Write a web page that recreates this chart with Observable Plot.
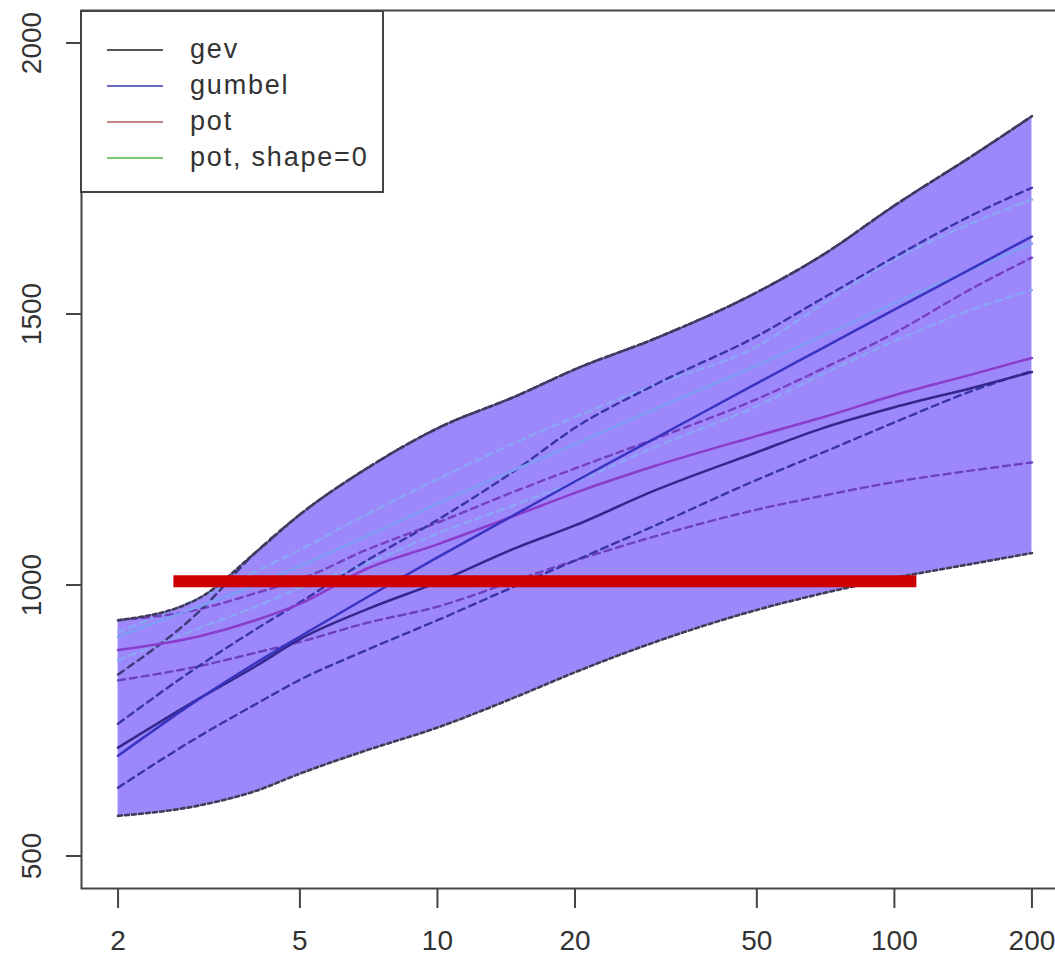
<!DOCTYPE html>
<html>
<head>
<meta charset="utf-8">
<script src="https://cdn.jsdelivr.net/npm/d3@7"></script>
<script src="https://cdn.jsdelivr.net/npm/@observablehq/plot@0.6"></script>
<style>
  body { margin: 0; background: #fff; }
  #wrap { position: relative; width: 1055px; height: 963px; overflow: hidden;
          font-family: "Liberation Sans", Arial, Helvetica, sans-serif; }
  #legend { position: absolute; left: 80px; top: 10px; }
</style>
</head>
<body>
<div id="wrap"></div>
<script>
// Return periods (x, log scale)
const periods = [2, 3, 4, 5, 7, 10, 15, 20, 30, 50, 70, 100, 150, 200];

// Envelope of all confidence intervals (filled band)
const bandUpper = [935, 975, 1060, 1130, 1215, 1289, 1350, 1398, 1455, 1540, 1610, 1700, 1795, 1865];
const bandLower = [574, 593, 620, 652, 695, 737, 795, 839, 895, 954, 985, 1013, 1040, 1059];

// gev
const gevEst   = [700, 790, 850, 900, 955, 1005, 1070, 1110, 1175, 1245, 1290, 1328, 1365, 1393];
const gevUpper = [835, 950, 1060, 1130, 1215, 1289, 1350, 1398, 1455, 1540, 1610, 1700, 1795, 1865];
// gumbel
const gumEst   = [685, 789, 856, 905, 977, 1051, 1133, 1191, 1271, 1372, 1438, 1508, 1587, 1643];
const gumUpper = [744, 850, 918, 968, 1045, 1120, 1215, 1290, 1370, 1459, 1530, 1605, 1685, 1733];
const gumLower = [626, 720, 780, 825, 880, 935, 1000, 1045, 1110, 1194, 1245, 1300, 1360, 1395];
// pot
const potEst   = [880, 905, 935, 965, 1030, 1075, 1130, 1170, 1220, 1275, 1310, 1350, 1390, 1419];
const potUpper = [935, 955, 985, 1010, 1065, 1115, 1175, 1215, 1270, 1343, 1400, 1465, 1550, 1604];
const potLower = [824, 850, 875, 895, 930, 960, 1010, 1045, 1090, 1139, 1165, 1190, 1212, 1226];
// pot, shape=0
const pot0Est   = [905, 960, 1000, 1035, 1090, 1150, 1215, 1260, 1325, 1405, 1460, 1520, 1585, 1630];
const pot0Upper = [913, 975, 1025, 1065, 1130, 1195, 1265, 1310, 1370, 1440, 1520, 1600, 1670, 1711];
const pot0Lower = [861, 920, 960, 995, 1040, 1095, 1150, 1190, 1255, 1330, 1390, 1450, 1510, 1544];

// Highlight bar
const highlight = [{ from: 2.65, to: 112, value: 1007 }];

// Axes
const xTicks = [2, 5, 10, 20, 50, 100, 200];
const yTicks = [500, 1000, 1500, 2000];

// Legend
const legendNames  = ["gev", "gumbel", "pot", "pot, shape=0"];
const legendColors = ["#555555", "#6a6ac4", "#c48484", "#78c878"];

const rows = arr => periods.map((T, i) => ({ T, v: arr[i] }));
const band = periods.map((T, i) => ({ T, lo: bandLower[i], hi: bandUpper[i] }));

const curve = "monotone-x";
const dashed = (arr, color, dash = "7,5", w = 2.4) =>
  Plot.line(rows(arr), { x: "T", y: "v", stroke: color, strokeWidth: w, strokeDasharray: dash, curve });
const solid = (arr, color, w = 2.5) =>
  Plot.line(rows(arr), { x: "T", y: "v", stroke: color, strokeWidth: w, curve });

const chart = Plot.plot({
  width: 1055,
  height: 963,
  marginLeft: 81,
  marginRight: -13,
  marginTop: 10,
  marginBottom: 75,
  style: { fontFamily: "'Liberation Sans', Arial, Helvetica, sans-serif", color: "#333", background: "#fff" },
  x: { type: "log", domain: [2 / Math.pow(10, 0.08), 200 * Math.pow(10, 0.08)] },
  y: { domain: [440, 2060] },
  marks: [
    Plot.areaY(band, { x: "T", y1: "lo", y2: "hi", fill: "#9c88fb", curve }),
    // confidence interval lines
    dashed(pot0Upper, "#8aa6f4"),
    dashed(pot0Lower, "#8aa6f4"),
    dashed(potUpper, "#7440c0"),
    dashed(potLower, "#6e40c0"),
    dashed(gumUpper, "#3934a8"),
    dashed(gumLower, "#3934a8"),
    dashed(gevUpper, "#3c3a78"),
    // estimates
    solid(pot0Est, "#7f9df3"),
    solid(potEst, "#8a3ccc"),
    solid(gevEst, "#33278c"),
    solid(gumEst, "#3a33c2"),
    // band boundaries
    dashed(bandUpper, "#3e3c5a", "4,3", 2.6),
    dashed(bandLower, "#3e3c5a", "4,3", 2.6),
    Plot.ruleY(highlight, { x1: "from", x2: "to", y: "value", stroke: "#cc0000", strokeWidth: 12 }),
    Plot.frame({ stroke: "#444", strokeWidth: 2 }),
    Plot.axisX({ ticks: xTicks, tickSize: 20, tickPadding: 22, fontSize: 28, tickFormat: d => String(d), label: null, strokeWidth: 2, stroke: "#444" }),
    Plot.axisY({ ticks: yTicks, tickSize: 15, tickFormat: () => "", label: null, strokeWidth: 2, stroke: "#444" }),
    Plot.text(yTicks, { y: d => d, text: d => String(d), frameAnchor: "left", dx: -49, rotate: -90, textAnchor: "middle", lineAnchor: "middle", fontSize: 28, fill: "#333" })
  ]
});

const wrap = document.getElementById("wrap");
wrap.appendChild(chart);

// Legend box drawn over the plot's top-left corner
const ns = "http://www.w3.org/2000/svg";
const lg = document.createElementNS(ns, "svg");
lg.setAttribute("id", "legend");
lg.setAttribute("width", 305);
lg.setAttribute("height", 184);
const box = document.createElementNS(ns, "rect");
box.setAttribute("x", 1); box.setAttribute("y", 1);
box.setAttribute("width", 302); box.setAttribute("height", 181);
box.setAttribute("fill", "#fff"); box.setAttribute("stroke", "#444"); box.setAttribute("stroke-width", 2);
lg.appendChild(box);
legendNames.forEach((name, i) => {
  const cy = 40 + i * 36;
  const ln = document.createElementNS(ns, "line");
  ln.setAttribute("x1", 27); ln.setAttribute("x2", 83);
  ln.setAttribute("y1", cy); ln.setAttribute("y2", cy);
  ln.setAttribute("stroke", legendColors[i]); ln.setAttribute("stroke-width", 2);
  lg.appendChild(ln);
  const tx = document.createElementNS(ns, "text");
  tx.setAttribute("x", 110); tx.setAttribute("y", cy + 8);
  tx.setAttribute("font-size", 27);
  tx.setAttribute("letter-spacing", "1.8");
  tx.setAttribute("fill", "#333");
  tx.setAttribute("font-family", "'Liberation Sans', Arial, Helvetica, sans-serif");
  tx.textContent = name;
  lg.appendChild(tx);
});
wrap.appendChild(lg);
</script>
</body>
</html>
